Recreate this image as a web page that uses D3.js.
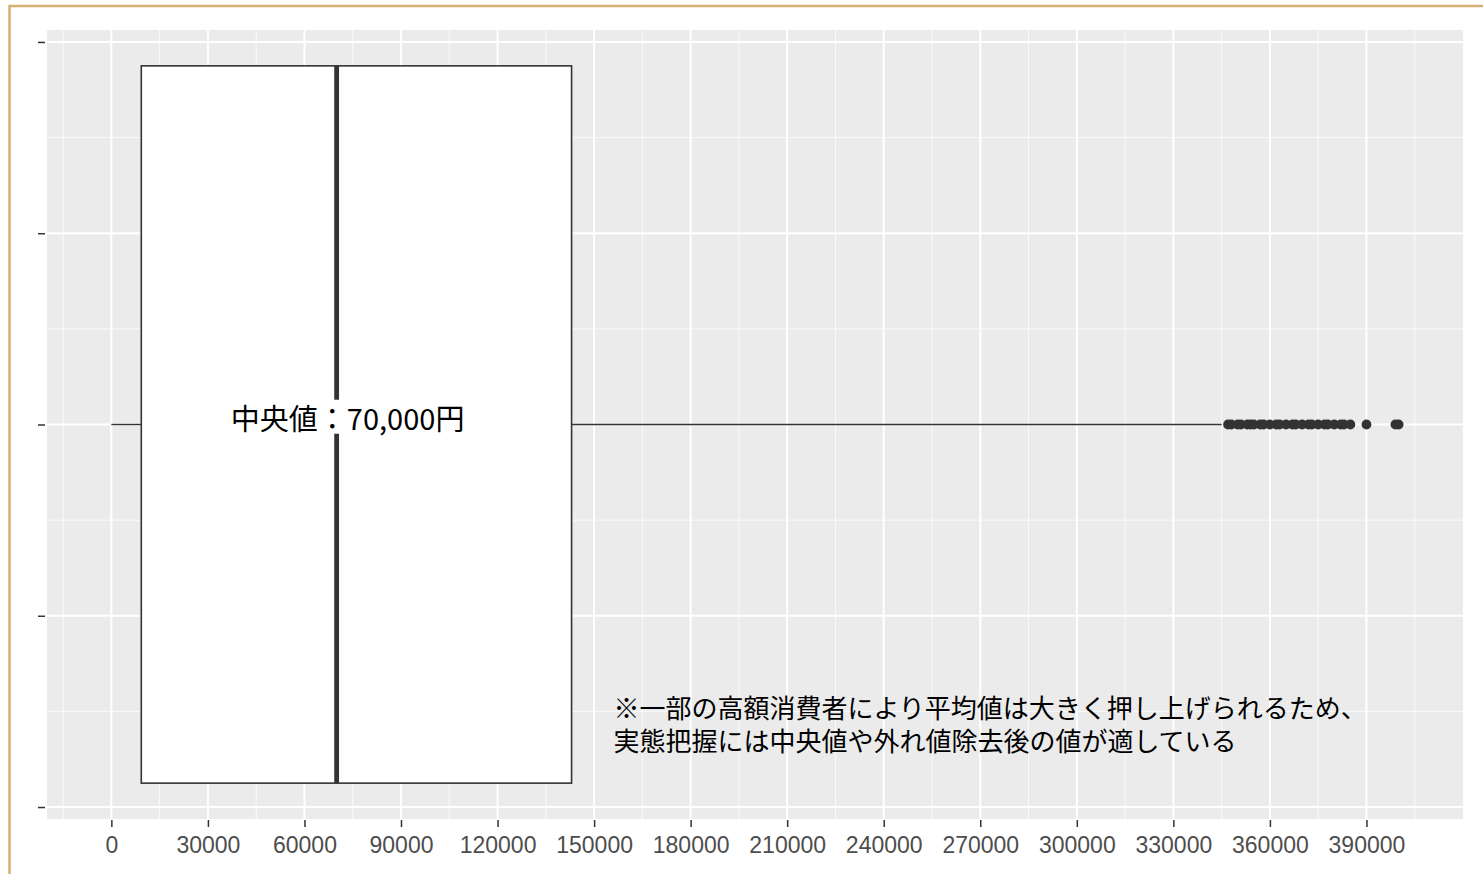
<!DOCTYPE html>
<html>
<head>
<meta charset="utf-8">
<script src="https://cdn.jsdelivr.net/npm/d3@7"></script>
<style>
  body { margin: 0; background: #ffffff; }
  svg { display: block; }
</style>
</head>
<body>
<svg id="chart" width="1483" height="874"></svg>
<script>
// ---- data -------------------------------------------------------------
// five-number summary of the box (yen)
const statNames  = ["lower", "q1", "median", "q3", "upper"];
const statValues = [0, 9300, 70000, 143000, 345000];

// individual points beyond the upper whisker (yen)
const outliers = [
  347000, 348000, 350000, 351000, 353000, 354000, 355000, 357000, 358000,
  360000, 362000, 363000, 365000, 367000, 368000, 370000, 372000, 373000,
  375000, 377000, 378000, 380000, 382000, 383000, 385000, 390000, 399000, 400000
];

// x-axis tick labels
const xTicks = [0, 30000, 60000, 90000, 120000, 150000, 180000, 210000,
                240000, 270000, 300000, 330000, 360000, 390000];

// y-axis ticks (blank labels) on the group axis
const yTicks = [-0.4, -0.2, 0, 0.2, 0.4];

const medianLabel = "中央値：70,000円";
const noteLines = [
  "※一部の高額消費者により平均値は大きく押し上げられるため、",
  "実態把握には中央値や外れ値除去後の値が適している"
];

// ---- layout -----------------------------------------------------------
const W = 1483, H = 874;
const panel = { left: 47, top: 30, right: 1463, bottom: 819 };
const boxHalf = 0.375;

const svg = d3.select("#chart");

// page frame
svg.append("rect")
  .attr("x", 9.5).attr("y", 6)
  .attr("width", W + 20).attr("height", H + 20)
  .attr("fill", "none")
  .attr("stroke", "#d5b072")
  .attr("stroke-width", 2.5);

// scales (5% expansion on both sides, like ggplot's default)
const dataMin = d3.min(statValues);
const dataMax = d3.max(outliers.concat(statValues));
const pad = (dataMax - dataMin) * 0.05;
const x = d3.scaleLinear()
  .domain([dataMin - pad, dataMax + pad])
  .range([panel.left, panel.right]);

const yLim = boxHalf * 1.1;
const y = d3.scaleLinear()
  .domain([-yLim, yLim])
  .range([panel.bottom, panel.top]);

// panel background
svg.append("rect")
  .attr("x", panel.left).attr("y", panel.top)
  .attr("width", panel.right - panel.left)
  .attr("height", panel.bottom - panel.top)
  .attr("fill", "#ebebeb");

// grid: minor lines halfway between majors
const xStep = xTicks[1] - xTicks[0];
const xMinor = d3.range(xTicks[0] - xStep / 2, x.domain()[1], xStep)
  .filter(v => v > x.domain()[0]);
const yStep = yTicks[1] - yTicks[0];
const yMinor = d3.range(yTicks[0] + yStep / 2, yTicks[yTicks.length - 1], yStep);

const grid = svg.append("g");
grid.selectAll(".vminor").data(xMinor).join("line")
  .attr("x1", d => x(d)).attr("x2", d => x(d))
  .attr("y1", panel.top).attr("y2", panel.bottom)
  .attr("stroke", "#fafafa").attr("stroke-width", 1);
grid.selectAll(".hminor").data(yMinor).join("line")
  .attr("y1", d => y(d)).attr("y2", d => y(d))
  .attr("x1", panel.left).attr("x2", panel.right)
  .attr("stroke", "#fafafa").attr("stroke-width", 1);
grid.selectAll(".vmajor").data(xTicks).join("line")
  .attr("x1", d => x(d)).attr("x2", d => x(d))
  .attr("y1", panel.top).attr("y2", panel.bottom)
  .attr("stroke", "#ffffff").attr("stroke-width", 2);
grid.selectAll(".hmajor").data(yTicks).join("line")
  .attr("y1", d => y(d)).attr("y2", d => y(d))
  .attr("x1", panel.left).attr("x2", panel.right)
  .attr("stroke", "#ffffff").attr("stroke-width", 2);

// ---- box plot ---------------------------------------------------------
const stat = Object.fromEntries(statNames.map((n, i) => [n, statValues[i]]));
const ink = "#333333";
const plot = svg.append("g");

// whiskers
plot.append("line")
  .attr("x1", x(stat.lower)).attr("x2", x(stat.q1))
  .attr("y1", y(0)).attr("y2", y(0))
  .attr("stroke", ink).attr("stroke-width", 1.4);
plot.append("line")
  .attr("x1", x(stat.q3)).attr("x2", x(stat.upper))
  .attr("y1", y(0)).attr("y2", y(0))
  .attr("stroke", ink).attr("stroke-width", 1.4);

// box
plot.append("rect")
  .attr("x", x(stat.q1)).attr("y", y(boxHalf))
  .attr("width", x(stat.q3) - x(stat.q1))
  .attr("height", y(-boxHalf) - y(boxHalf))
  .attr("fill", "#ffffff")
  .attr("stroke", ink).attr("stroke-width", 1.6);

// median
plot.append("line")
  .attr("x1", x(stat.median)).attr("x2", x(stat.median))
  .attr("y1", y(boxHalf)).attr("y2", y(-boxHalf))
  .attr("stroke", ink).attr("stroke-width", 4.8);

// outliers
plot.selectAll("circle").data(outliers).join("circle")
  .attr("cx", d => x(d)).attr("cy", y(0))
  .attr("r", 4.9)
  .attr("fill", ink);

// ---- axes -------------------------------------------------------------
const xAxis = svg.append("g")
  .attr("transform", `translate(0,${panel.bottom + 1})`)
  .call(d3.axisBottom(x).tickValues(xTicks).tickFormat(d3.format("d"))
        .tickSize(7).tickPadding(10));
xAxis.select(".domain").remove();
xAxis.selectAll(".tick line").attr("stroke", ink).attr("stroke-width", 1.5);
xAxis.selectAll(".tick text")
  .attr("fill", "#4d4d4d")
  .style("font-family", "'Liberation Sans', Arial, sans-serif")
  .style("font-size", "23px");

const yAxis = svg.append("g")
  .attr("transform", `translate(${panel.left - 2},0)`)
  .call(d3.axisLeft(y).tickValues(yTicks).tickFormat("").tickSize(7));
yAxis.select(".domain").remove();
yAxis.selectAll(".tick line").attr("stroke", ink).attr("stroke-width", 1.5);

// ---- annotations ------------------------------------------------------
const cjk = "'Noto Sans CJK JP', 'Noto Sans', sans-serif";

const label = svg.append("g");
const labelText = label.append("text")
  .attr("x", x(stat.median) + 11)
  .attr("y", y(0))
  .attr("dy", "0.18em")
  .attr("text-anchor", "middle")
  .style("font-family", cjk)
  .style("font-size", "29px")
  .attr("fill", "#000000")
  .text(medianLabel);
const bb = labelText.node().getBBox();
label.insert("rect", "text")
  .attr("x", bb.x - 4).attr("y", bb.y + 4)
  .attr("width", bb.width + 8).attr("height", bb.height - 8)
  .attr("fill", "#ffffff");

svg.append("text")
  .attr("x", x(156000))
  .attr("y", y(-0.3))
  .style("font-family", cjk)
  .style("font-size", "26px")
  .attr("fill", "#000000")
  .selectAll("tspan").data(noteLines).join("tspan")
  .attr("x", x(156000))
  .attr("dy", (d, i) => i === 0 ? "0.24em" : "1.3em")
  .text(d => d);
</script>
</body>
</html>
